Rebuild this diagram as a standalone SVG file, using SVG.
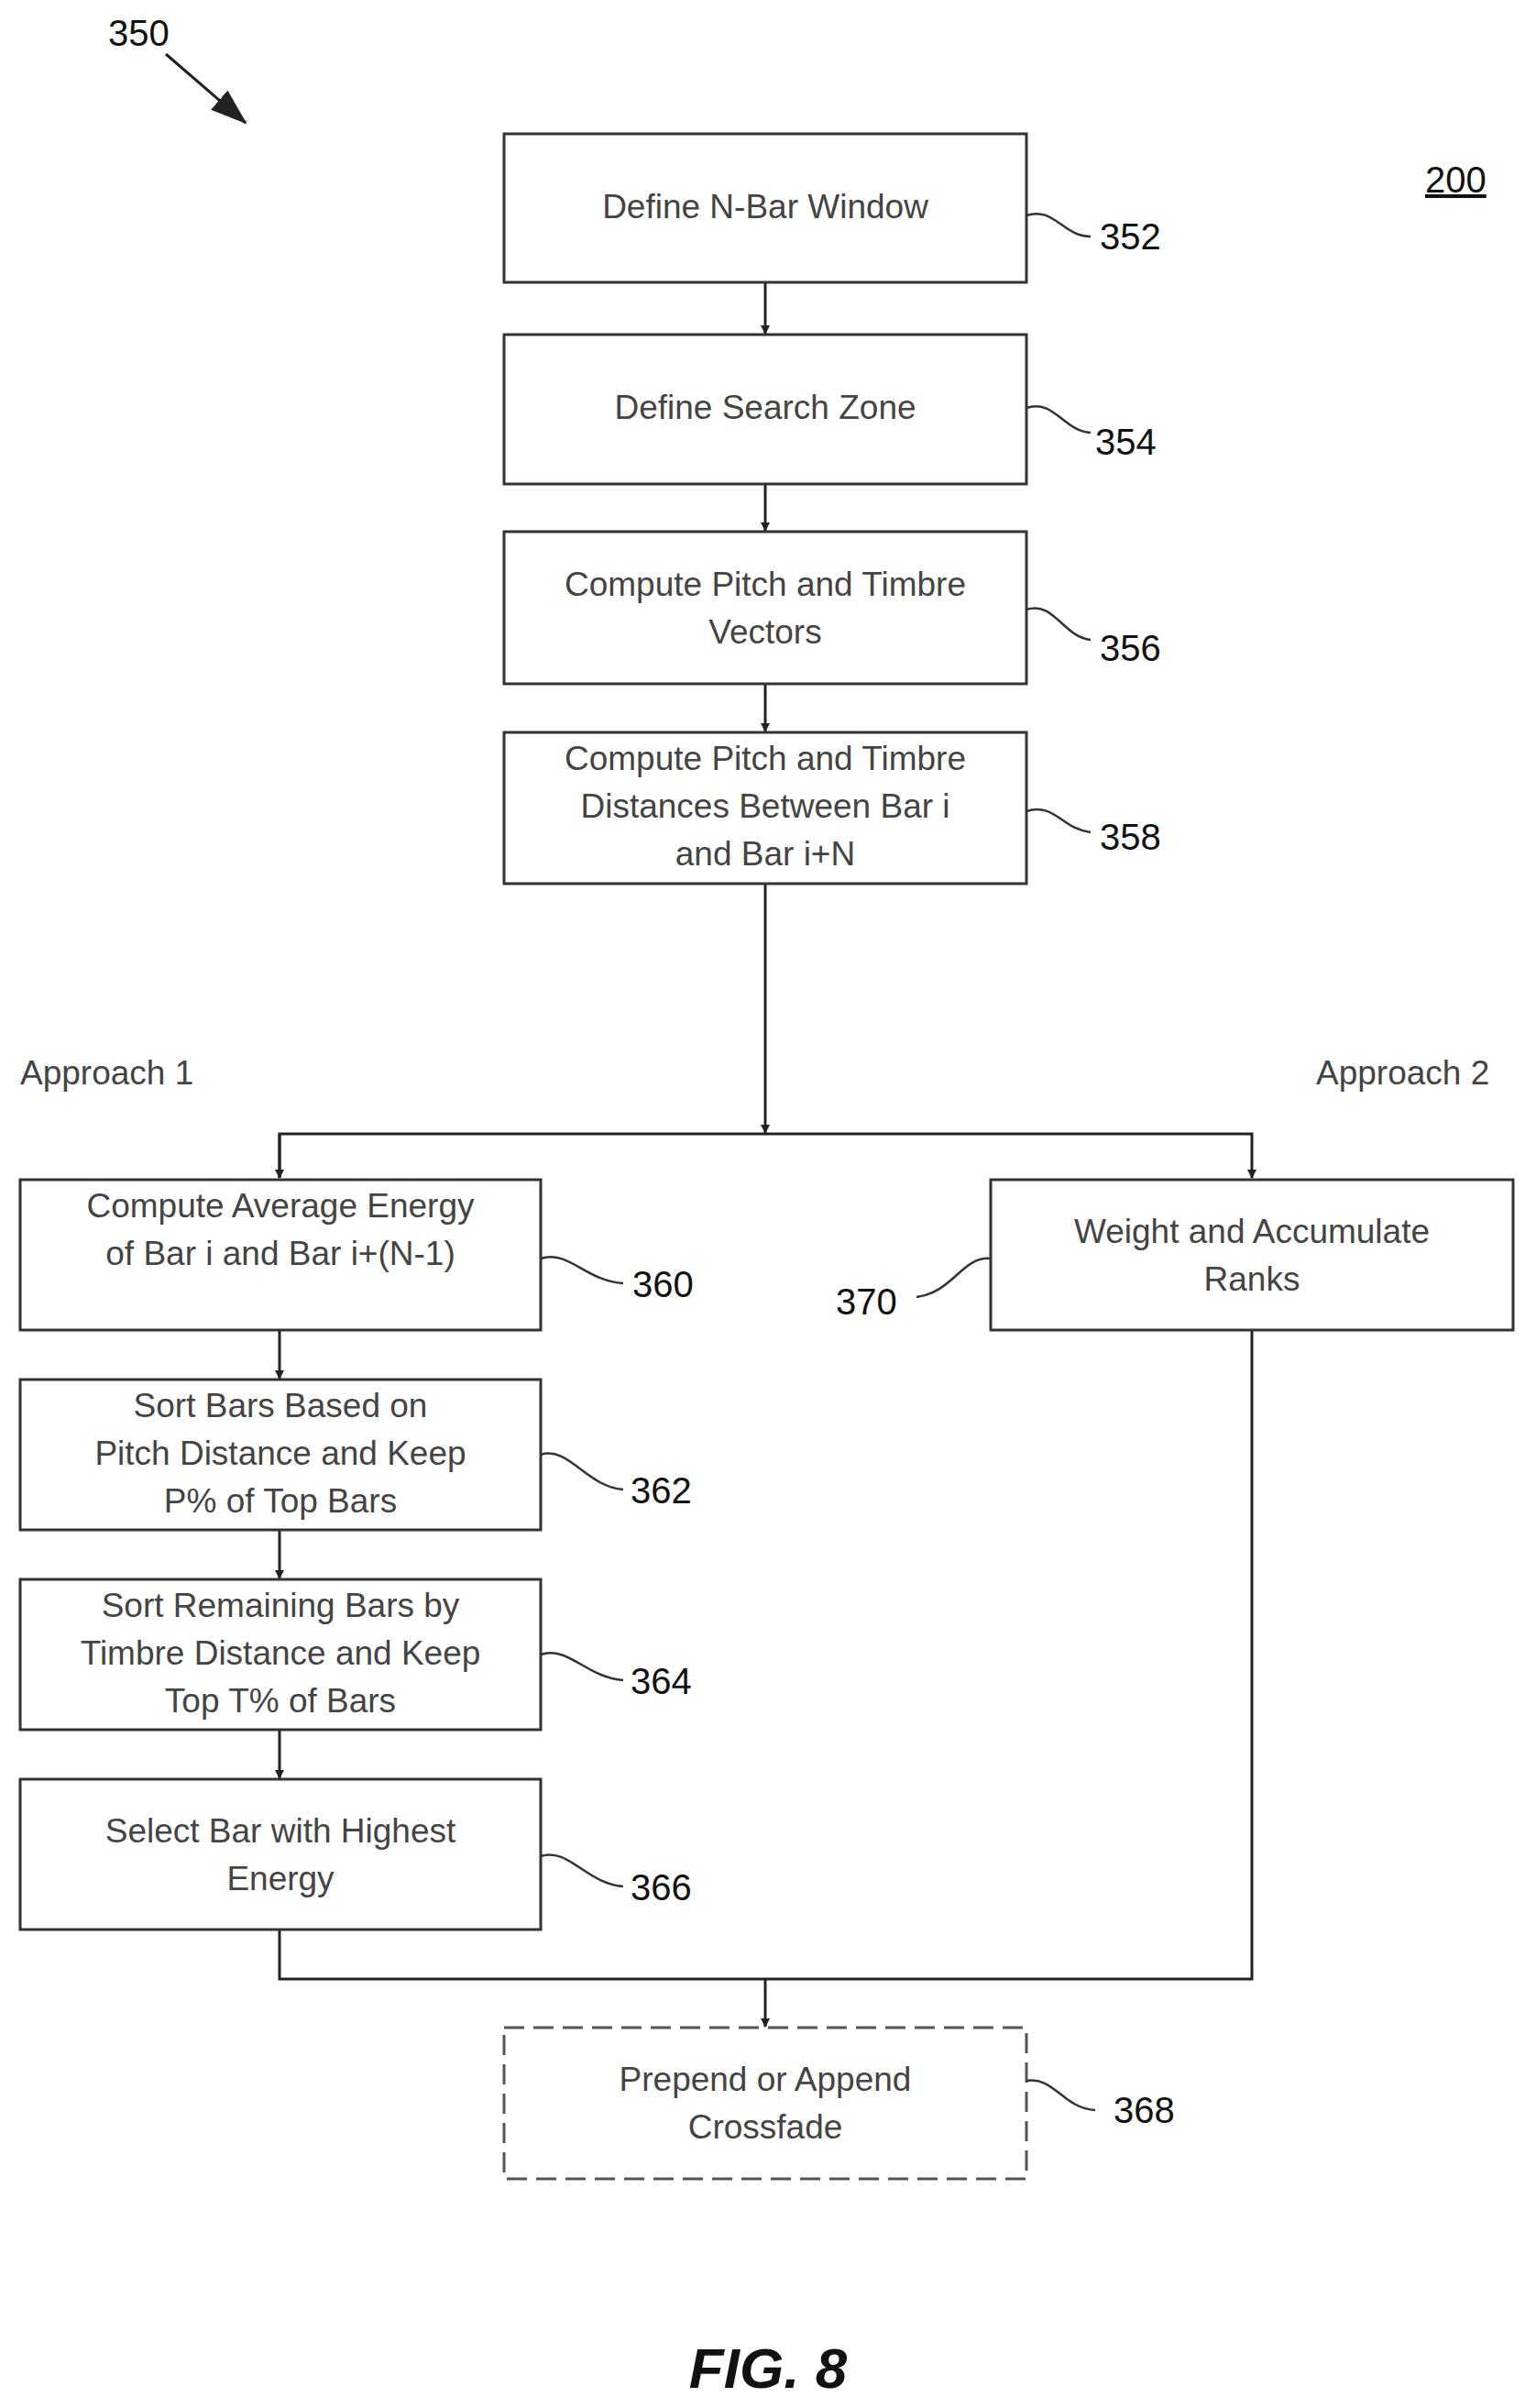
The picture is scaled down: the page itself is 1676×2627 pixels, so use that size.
<svg xmlns="http://www.w3.org/2000/svg" width="1676" height="2627" viewBox="0 0 1676 2627">
<defs>
<marker id="ah" markerWidth="10" markerHeight="10" refX="9" refY="5" orient="auto" markerUnits="userSpaceOnUse" viewBox="0 0 10 10"><path d="M0,0 L10,5 L0,10 z" fill="#222"/></marker>
<marker id="big" markerWidth="40" markerHeight="40" refX="38" refY="20" orient="auto" markerUnits="userSpaceOnUse" viewBox="0 0 40 40"><path d="M0,6 L40,20 L0,34 z" fill="#222"/></marker>
</defs>
<style>
.b{fill:#fff;stroke:#333;stroke-width:3}
.d{fill:#fff;stroke:#555;stroke-width:3;stroke-dasharray:22,10}
.t{font-family:"Liberation Sans",Arial,sans-serif;font-size:37px;fill:#444;text-anchor:middle}
.n{font-family:"Liberation Sans",Arial,sans-serif;font-size:40px;fill:#111}
.l{fill:none;stroke:#333;stroke-width:2.5}
.c{fill:none;stroke:#222;stroke-width:3}
</style>
<rect width="1676" height="2627" fill="#fff"/>
<text class="n" x="118" y="50">350</text>
<line x1="181" y1="59" x2="268" y2="134" stroke="#222" stroke-width="3" marker-end="url(#big)"/>
<text class="n" x="1555" y="210" text-decoration="underline">200</text>
<g id="connectors">
<line class="c" x1="835" y1="308" x2="835" y2="364" marker-end="url(#ah)"/>
<line class="c" x1="835" y1="528" x2="835" y2="579" marker-end="url(#ah)"/>
<line class="c" x1="835" y1="746" x2="835" y2="798" marker-end="url(#ah)"/>
<line class="c" x1="835" y1="964" x2="835" y2="1236" marker-end="url(#ah)"/>
<polyline class="c" points="305,1285 305,1237 1366,1237 1366,1285" marker-end="url(#ah)"/>
<line class="c" x1="305" y1="1237" x2="305" y2="1285" marker-end="url(#ah)"/>
<line class="c" x1="305" y1="1451" x2="305" y2="1504" marker-end="url(#ah)"/>
<line class="c" x1="305" y1="1669" x2="305" y2="1722" marker-end="url(#ah)"/>
<line class="c" x1="305" y1="1887" x2="305" y2="1940" marker-end="url(#ah)"/>
<polyline class="c" points="305,2105 305,2159 1366,2159 1366,1451"/>
<line class="c" x1="835" y1="2159" x2="835" y2="2211" marker-end="url(#ah)"/>
</g>
<g id="n352"><rect class="b" x="550" y="146" width="570" height="162"/><text class="t" x="835" y="238">Define N-Bar Window</text>
<path class="l" d="M1120,235 C1150,225 1160,258 1190,258"/><text class="n" x="1200" y="272">352</text></g>
<g id="n354"><rect class="b" x="550" y="365" width="570" height="163"/><text class="t" x="835" y="457">Define Search Zone</text>
<path class="l" d="M1120,445 C1150,435 1160,470 1190,472"/><text class="n" x="1195" y="496">354</text></g>
<g id="n356"><rect class="b" x="550" y="580" width="570" height="166"/><text class="t" x="835" y="650">Compute Pitch and Timbre</text><text class="t" x="835" y="702">Vectors</text>
<path class="l" d="M1120,665 C1150,655 1160,695 1190,698"/><text class="n" x="1200" y="721">356</text></g>
<g id="n358"><rect class="b" x="550" y="799" width="570" height="165"/><text class="t" x="835" y="840">Compute Pitch and Timbre</text><text class="t" x="835" y="892">Distances Between Bar i</text><text class="t" x="835" y="944">and Bar i+N</text>
<path class="l" d="M1120,885 C1150,875 1160,905 1190,908"/><text class="n" x="1200" y="927">358</text></g>
<text class="n" x="22" y="1183" style="font-size:37px;fill:#444">Approach 1</text>
<text class="n" x="1436" y="1183" style="font-size:37px;fill:#444">Approach 2</text>
<g id="n360"><rect class="b" x="22" y="1287" width="568" height="164"/><text class="t" x="306" y="1328">Compute Average Energy</text><text class="t" x="306" y="1380">of Bar i and Bar i+(N-1)</text>
<path class="l" d="M590,1373 C620,1363 640,1398 680,1400"/><text class="n" x="690" y="1415">360</text></g>
<g id="n362"><rect class="b" x="22" y="1505" width="568" height="164"/><text class="t" x="306" y="1546">Sort Bars Based on</text><text class="t" x="306" y="1598">Pitch Distance and Keep</text><text class="t" x="306" y="1650">P% of Top Bars</text>
<path class="l" d="M590,1587 C620,1577 640,1622 680,1625"/><text class="n" x="688" y="1640">362</text></g>
<g id="n364"><rect class="b" x="22" y="1723" width="568" height="164"/><text class="t" x="306" y="1764">Sort Remaining Bars by</text><text class="t" x="306" y="1816">Timbre Distance and Keep</text><text class="t" x="306" y="1868">Top T% of Bars</text>
<path class="l" d="M590,1805 C620,1795 640,1830 680,1833"/><text class="n" x="688" y="1848">364</text></g>
<g id="n366"><rect class="b" x="22" y="1941" width="568" height="164"/><text class="t" x="306" y="2010">Select Bar with Highest</text><text class="t" x="306" y="2062">Energy</text>
<path class="l" d="M590,2025 C620,2015 640,2055 680,2058"/><text class="n" x="688" y="2073">366</text></g>
<g id="n370"><rect class="b" x="1081" y="1287" width="570" height="164"/><text class="t" x="1366" y="1356">Weight and Accumulate</text><text class="t" x="1366" y="1408">Ranks</text>
<path class="l" d="M1081,1373 C1050,1370 1040,1410 1000,1415"/><text class="n" x="912" y="1434">370</text></g>
<g id="n368"><rect class="d" x="550" y="2212" width="570" height="165"/><text class="t" x="835" y="2281">Prepend or Append</text><text class="t" x="835" y="2333">Crossfade</text>
<path class="l" d="M1120,2270 C1150,2265 1160,2300 1195,2302"/><text class="n" x="1215" y="2316">368</text></g>
<text x="838" y="2605" text-anchor="middle" font-family="Liberation Sans,Arial,sans-serif" font-size="62" font-weight="bold" font-style="italic" fill="#111">FIG. 8</text>
</svg>
